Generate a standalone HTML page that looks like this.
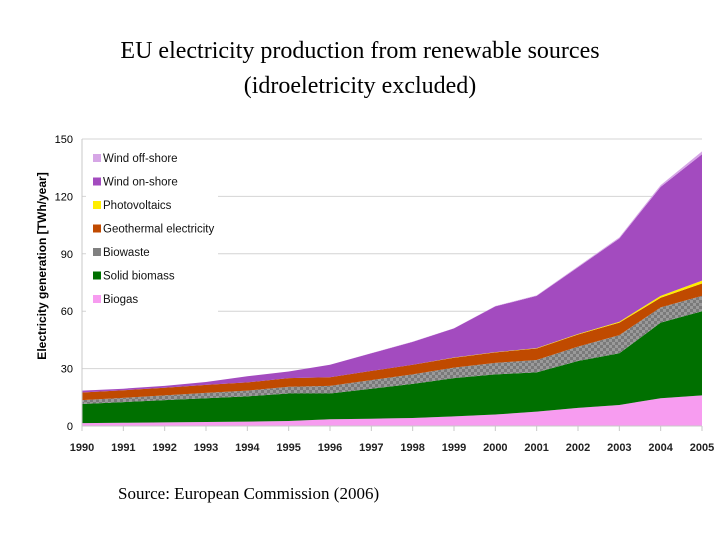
<!DOCTYPE html>
<html><head><meta charset="utf-8"><style>
body{margin:0;background:#fff;}
svg{display:block;}
</style></head><body>
<svg id="c" width="720" height="540" xmlns="http://www.w3.org/2000/svg">
<defs>
<pattern id="chk" width="6" height="6" patternUnits="userSpaceOnUse">
<rect width="6" height="6" fill="#7a7a7a"/><rect width="3" height="3" fill="#9a9a9a"/><rect x="3" y="3" width="3" height="3" fill="#9a9a9a"/>
</pattern>
</defs>
<text x="360" y="58" text-anchor="middle" font-family="Liberation Serif, serif" font-size="24">EU electricity production from renewable sources</text>
<text x="360" y="93" text-anchor="middle" font-family="Liberation Serif, serif" font-size="24">(idroeletricity excluded)</text>
<text x="118" y="499" font-family="Liberation Serif, serif" font-size="17">Source: European Commission (2006)</text>
<text transform="translate(46,266) rotate(-90)" text-anchor="middle" font-family="Liberation Sans, sans-serif" font-weight="bold" font-size="12">Electricity generation [TWh/year]</text>
<g id="grid"></g>
<g id="areas"></g>
<g id="axes"></g>
<g id="legend"></g>
</svg>
<script>
const years=[1990,1991,1992,1993,1994,1995,1996,1997,1998,1999,2000,2001,2002,2003,2004,2005];
const biogas=[1.5,1.7,1.9,2.1,2.3,2.6,3.5,3.8,4.2,5,6,7.5,9.5,11,14.5,16];
const solidBiomass=[10,10.8,11.6,12.4,13.2,14.4,13.5,15.7,17.8,20,21,20.5,24.5,27,39.5,44];
const biowaste=[2,2.2,2.5,2.8,3,3.5,4,4.5,5,5.5,6,6.5,7.5,9.5,8,8];
const geothermal=[4,4,4,4.2,4.3,4.5,4.5,4.8,5,5.2,5.5,6,6.3,6.5,5,6.5];
const photovoltaics=[0,0,0,0,0,0,0,0,0,0.1,0.1,0.2,0.3,0.5,1,1.5];
const windOnshore=[1,0.8,1,1.5,3.2,3.5,6.5,9.2,12,15.2,23.9,27.3,34.9,43.5,57,66];
const windOffshore=[0,0,0,0,0,0,0,0.1,0.1,0.1,0.2,0.3,0.4,0.6,0.9,1.5];
const yTicks=[0,30,60,90,120,150];
const seriesNames=["Biogas","Solid biomass","Biowaste","Geothermal electricity","Photovoltaics","Wind on-shore","Wind off-shore"];

const NS="http://www.w3.org/2000/svg";
const X0=82,X1=702,Y0=426,Y150=139;
const xs=y=>X0+(y-years[0])/(years[years.length-1]-years[0])*(X1-X0);
const ys=v=>Y0-v/150*(Y0-Y150);
function mk(tag,attrs,parent){const e=document.createElementNS(NS,tag);for(const k in attrs)e.setAttribute(k,attrs[k]);parent.appendChild(e);return e;}
const grid=document.getElementById('grid'),areas=document.getElementById('areas'),axes=document.getElementById('axes'),legend=document.getElementById('legend');

yTicks.forEach(t=>{
 if(t>0){const l=mk('line',{x1:X0,x2:X1,y1:ys(t),y2:ys(t),stroke:'#d4d4d4','stroke-width':1},grid);
 
 }
 const tx=mk('text',{x:73,y:ys(t)+4,'text-anchor':'end','font-family':'Liberation Sans, sans-serif','font-size':11},axes);
 tx.textContent=t;
 
 
});

const series=[biogas,solidBiomass,biowaste,geothermal,photovoltaics,windOnshore,windOffshore];
const fills=['#f79cf0','#007000','url(#chk)','#c04a00','#ffee00','#a34bbf','#d6a6e6'];
const names=['area-biogas','area-solid-biomass','area-biowaste','area-geothermal','area-photovoltaics','area-wind-onshore','area-wind-offshore'];
let base=years.map(()=>0);
series.forEach((s,i)=>{
 const top=base.map((b,j)=>b+s[j]);
 let d='M'+years.map((y,j)=>xs(y)+','+ys(top[j])).join('L');
 for(let j=years.length-1;j>=0;j--)d+='L'+xs(years[j])+','+ys(base[j]);
 const p=mk('path',{d:d+'Z',fill:fills[i]},areas);
 
 
 base=top;
});

const ax=mk('line',{x1:X0,x2:X0,y1:Y150,y2:Y0,stroke:'#c8c8c8'},axes);


const bx=mk('line',{x1:X0,x2:X1,y1:Y0,y2:Y0,stroke:'#c8c8c8'},axes);


years.forEach(y=>{
 const tk=mk('line',{x1:xs(y),x2:xs(y),y1:Y0,y2:Y0+5,stroke:'#c8c8c8'},axes);
 
 
 const tx=mk('text',{x:xs(y),y:Y0+25,'text-anchor':'middle','font-family':'Liberation Sans, sans-serif','font-size':11,'font-weight':'bold',fill:'#222'},axes);
 tx.textContent=y;
 
 
});

const bg=mk('rect',{x:86,y:146,width:132,height:166,fill:'#fff'},legend);


const lgOrder=[6,5,4,3,2,1,0];
const lgCol=['#f79cf0','#007000','#808080','#c04a00','#ffee00','#a34bbf','#d6a6e6'];
lgOrder.forEach((si,k)=>{
 const y=158+k*23.5;
 const g=mk('g',{},legend);
 
 
 mk('rect',{x:93,y:y-4,width:8,height:8,fill:lgCol[si]},g);
 const t=mk('text',{x:103,y:y+4,'font-family':'Liberation Sans, sans-serif','font-size':11.5,fill:'#111'},g);
 t.textContent=seriesNames[si];
});
</script>
</body></html>
